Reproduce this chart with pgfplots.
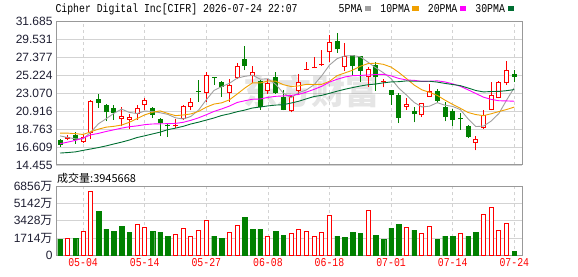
\documentclass[border=0pt]{standalone}
\usepackage{fontspec}
\usepackage{pgfplots}
\usepackage{pgfplotstable}
\pgfplotsset{compat=1.18}
\setmainfont{Liberation Sans}
\newfontfamily\monof[FakeStretch=0.82]{Liberation Mono}
\newfontfamily\cjk{Noto Sans CJK SC}

\definecolor{cred}{RGB}{255,0,0}
\definecolor{cgrn}{RGB}{0,128,0}
\definecolor{ma5}{RGB}{160,160,160}
\definecolor{ma10}{RGB}{240,160,0}
\definecolor{ma20}{RGB}{255,0,255}
\definecolor{ma30}{RGB}{0,110,50}
\definecolor{gridc}{RGB}{211,211,211}
\definecolor{framec}{RGB}{153,153,153}
\definecolor{labc}{RGB}{30,30,50}

% red (up) candles: index open high low close
\pgfplotstableread{
i o h l c
1 17.60 18.08 17.41 17.80
3 17.21 18.16 17.09 17.76
4 18.28 22.20 17.60 22.15
8 19.96 21.47 19.08 20.28
9 19.88 20.60 18.76 20.16
10 20.56 21.67 19.88 21.28
11 21.63 22.55 21.08 22.27
15 19.10 20.00 18.95 19.25
16 19.96 21.60 19.90 21.55
17 21.39 22.47 21.00 22.07
19 23.15 25.66 22.07 25.26
22 23.15 24.75 22.07 24.07
23 24.86 26.74 24.75 26.40
25 25.14 26.34 24.27 25.58
27 23.39 24.75 22.99 24.35
30 20.88 22.87 20.76 22.75
31 23.39 25.38 22.99 24.47
32 25.90 26.86 25.86 25.98
33 26.10 27.38 26.06 26.18
34 26.42 28.26 26.38 26.50
35 27.98 30.05 26.86 29.17
37 26.26 29.05 25.78 27.58
40 25.06 26.26 23.87 25.94
42 24.48 24.75 23.79 24.55
45 21.47 22.55 21.08 21.75
47 20.40 21.95 20.20 21.87
48 22.67 24.19 22.59 23.35
54 17.09 17.88 16.21 17.57
55 18.88 21.08 18.80 20.48
56 21.08 24.47 21.00 22.87
57 22.55 24.60 22.45 24.47
58 24.27 26.94 24.07 25.86
}\redtab

% green (down) candles
\pgfplotstableread{
i o h l c
0 17.49 17.60 16.65 16.89
2 18.00 18.40 17.00 17.41
5 22.39 22.99 21.28 21.95
6 21.67 21.79 19.68 20.76
7 21.28 21.67 19.88 20.68
12 21.28 21.39 20.08 20.48
13 20.00 20.08 17.88 19.48
14 19.20 19.40 17.80 19.12
18 23.32 24.67 22.07 23.27
20 24.95 25.06 24.07 24.90
21 24.43 24.55 22.67 23.79
24 27.18 28.73 25.86 26.34
26 24.59 24.62 21.08 21.40
28 24.98 25.66 22.99 23.07
29 22.67 23.47 21.00 21.08
36 29.33 30.25 27.94 28.34
38 27.66 27.66 25.14 26.38
39 27.54 27.54 24.47 25.78
41 26.46 26.86 23.39 24.98
43 23.47 23.50 21.67 22.87
44 22.87 23.15 19.48 20.08
46 20.88 21.39 19.56 20.56
49 23.35 23.55 21.87 22.15
50 21.47 22.07 19.68 20.20
51 20.99 21.15 19.16 19.88
52 19.95 20.68 18.68 19.92
53 19.08 19.28 17.68 17.80
59 25.38 25.86 24.39 25.08
}\greentab

% moving averages
\pgfplotstableread{
i m5 m10 m20 m30
0 17.95 18.28 17.01 15.89
1 17.75 18.28 17.20 15.95
2 17.60 18.22 17.41 16.03
3 17.60 18.12 17.69 16.21
4 18.40 18.45 18.08 16.38
5 19.41 18.76 18.25 16.55
6 20.01 19.00 18.48 16.75
7 20.66 19.10 18.68 16.98
8 21.16 19.25 18.88 17.20
9 20.77 19.58 19.05 17.45
10 20.63 20.02 19.15 17.75
11 20.93 20.47 19.30 17.96
12 20.89 20.78 19.38 18.18
13 20.73 20.95 19.40 18.40
14 20.53 20.65 19.42 18.70
15 20.12 20.38 19.45 18.88
16 19.98 20.46 19.58 19.10
17 20.29 20.59 19.82 19.38
18 21.05 20.89 20.12 19.60
19 22.28 21.40 20.49 19.85
20 23.41 21.77 20.89 20.10
21 23.86 21.92 21.19 20.40
22 24.26 22.28 21.53 20.60
23 24.88 22.97 21.96 20.85
24 25.10 23.69 22.17 21.05
25 25.24 24.32 22.35 21.30
26 24.76 24.31 22.38 21.42
27 24.81 24.54 22.57 21.55
28 24.15 24.52 22.70 21.65
29 23.10 24.10 22.75 21.70
30 22.53 23.88 22.82 21.89
31 23.14 23.95 22.93 22.11
32 23.47 24.14 23.21 22.40
33 24.09 24.12 23.54 22.68
34 25.18 24.14 23.91 22.82
35 26.46 24.50 24.41 23.06
36 27.23 25.19 24.75 23.32
37 27.55 25.51 25.02 23.55
38 27.59 25.84 25.18 23.75
39 27.45 26.31 25.21 23.94
40 26.80 26.63 25.26 24.09
41 26.13 26.68 25.32 24.18
42 25.53 26.54 25.34 24.32
43 24.82 26.21 25.16 24.43
44 23.68 25.57 24.85 24.46
45 22.85 24.83 24.66 24.55
46 21.96 24.05 24.62 24.51
47 21.43 23.48 24.49 24.51
48 21.52 23.17 24.51 24.51
49 21.94 22.81 24.56 24.41
50 21.63 22.24 24.43 24.25
51 21.49 21.73 24.20 24.12
52 21.10 21.26 23.90 23.98
53 19.99 20.76 23.48 23.70
54 19.07 20.51 23.04 23.40
55 19.13 20.38 22.60 23.23
56 19.73 20.61 22.33 23.28
57 20.64 20.87 22.17 23.29
58 22.25 21.12 22.15 23.38
59 23.75 21.41 22.11 23.51
}\matab

% volume (10k shares), red = up day
\pgfplotstableread{
i v
1 1706
3 2375
4 6421
10 3077
11 2809
15 2107
16 2709
17 1906
18 2508
19 3512
22 2274
23 2977
27 1906
30 2190
31 2575
32 2375
33 1906
34 2274
35 3980
40 4482
45 2809
47 2174
48 2876
52 2174
55 4080
56 4783
57 2475
58 3177
}\rvol

\pgfplotstableread{
i v
0 1605
2 1706
5 4415
6 2609
7 2408
8 2910
9 2308
12 2408
13 2308
14 1906
20 1906
21 1706
24 3813
25 2609
26 2609
28 2408
29 2007
36 1906
37 1806
38 2308
39 2207
41 2007
42 1605
43 2709
44 3110
46 2508
49 1605
50 1906
51 1906
53 1906
54 2308
59 395
}\gvol

\pgfplotsset{
  kstyle/.style={
    scale only axis, width=466pt,
    xmin=-0.52, xmax=60,
    axis line style={framec, line width=1pt},
    major tick length=0pt,
    xtick={3,11,19,27,35,43,51,59},
    xmajorgrids, ymajorgrids,
    x grid style={gridc, line width=0.8pt, dash pattern=on 3pt off 3pt},
    y grid style={gridc, line width=0.8pt},
  },
  wick/.style={draw=none, mark=none, forget plot,
    error bars/.cd, y dir=plus, y explicit, error mark=none,
    error bar style={draw=#1, line width=1pt, solid}},
  body/.style 2 args={draw=none, mark=none, forget plot,
    error bars/.cd, y dir=plus, y explicit, error mark=none,
    error bar style={draw=#1, line width=#2, solid}},
}

\begin{document}
\begin{tikzpicture}
\useasboundingbox (0,0) rectangle (578pt,276pt);

% title
\node[anchor=base west, inner sep=0pt, font=\monof\fontsize{12}{12}\selectfont]
  at (55.3pt,263.5pt) {Cipher Digital Inc[CIFR] 2026-07-24 22:07};

% price panel
\begin{axis}[kstyle,
  at={(56pt,111pt)}, anchor=south west, height=143.5pt,
  ymin=14.455, ymax=31.685,
  ytick={14.455,16.609,18.763,20.916,23.070,25.224,27.377,29.531,31.685},
  yticklabels={14.455,16.609,18.763,20.916,23.070,25.224,27.377,29.531,31.685},
  xticklabels={},
  yticklabel style={font=\fontsize{12}{12}\selectfont, text=labc},
  legend columns=4,
  legend plot pos=right,
  legend style={at={(0.6067,1.0857)}, anchor=west, draw=none, fill=none,
    inner sep=0pt, outer sep=0pt,
    font=\monof\fontsize{12}{12}\selectfont,
    nodes={inner sep=0pt},
    /tikz/every odd column/.append style={column sep=2.6pt},
    /tikz/every even column/.append style={column sep=9pt}},
]
\node[opacity=0.10, text=black, font=\cjk\bfseries\fontsize{34}{34}\selectfont]
  at (rel axis cs:0.548,0.512) {东方财富};

% wicks
\addplot[wick=cred] table[x=i, y=l, y error plus expr=\thisrow{h}-\thisrow{l}] {\redtab};
\addplot[wick=cgrn] table[x=i, y=l, y error plus expr=\thisrow{h}-\thisrow{l}] {\greentab};
% bodies
\addplot[body={cred}{5pt}] table[x=i, y=o, y error plus expr={max(\thisrow{c}-\thisrow{o},0.12)}] {\redtab};
\addplot[body={white}{3pt}] table[x=i, y expr=\thisrow{o}+0.12, y error plus expr={max(\thisrow{c}-\thisrow{o}-0.24,0)}] {\redtab};
\addplot[body={cgrn}{5pt}] table[x=i, y=c, y error plus expr={max(\thisrow{o}-\thisrow{c},0.12)}] {\greentab};

% moving averages
\addplot[ma5, line width=0.9pt, legend image code/.code={\fill[ma5] (0pt,-1pt) rectangle (5.5pt,3pt);}] table[x=i, y=m5] {\matab};
\addlegendentry{5PMA}
\addplot[ma10, line width=0.9pt, legend image code/.code={\fill[ma10] (0pt,-1pt) rectangle (5.5pt,3pt);}] table[x=i, y=m10] {\matab};
\addlegendentry{10PMA}
\addplot[ma20, line width=0.9pt, legend image code/.code={\fill[ma20] (0pt,-1pt) rectangle (5.5pt,3pt);}] table[x=i, y=m20] {\matab};
\addlegendentry{20PMA}
\addplot[ma30, line width=0.9pt, legend image code/.code={\fill[ma30] (0pt,-1pt) rectangle (5.5pt,3pt);}] table[x=i, y=m30] {\matab};
\addlegendentry{30PMA}
\end{axis}

% volume label
\node[anchor=west, inner sep=0pt, font=\cjk\fontsize{11}{11}\selectfont]
  at (57pt,97.7pt) {成交量:3945668};

% volume panel
\begin{axis}[kstyle,
  at={(56pt,21pt)}, anchor=south west, height=68.3pt,
  ymin=0, ymax=6856,
  ytick={0,1714,3428,5142,6856},
  yticklabels={0,1714{\cjk 万},3428{\cjk 万},5142{\cjk 万},6856{\cjk 万}},
  xticklabels={05-04,05-14,05-27,06-08,06-18,07-01,07-14,07-24},
  xticklabel style={text=cred, font=\monof\fontsize{12}{12}\selectfont},
  yticklabel style={font=\fontsize{12}{12}\selectfont, text=labc},
]
\addplot[ybar, bar width=4.6pt, bar shift=0pt, draw=cgrn, fill=cgrn, line width=0.4pt] table[x=i, y=v] {\gvol};
\addplot[ybar, bar width=4pt, bar shift=0pt, draw=cred, fill=white, line width=1pt] table[x=i, y=v] {\rvol};
\end{axis}
\end{tikzpicture}
\end{document}
